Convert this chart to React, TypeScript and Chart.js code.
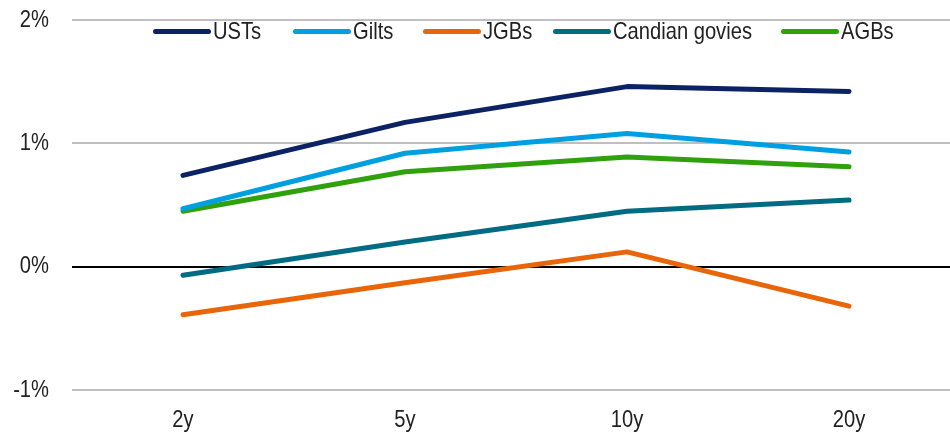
import React, { useEffect, useRef } from "react";
import { Chart, registerables } from "chart.js";

Chart.register(...registerables);

const categories = ["2y", "5y", "10y", "20y"];
const seriesNames = ["USTs", "Gilts", "JGBs", "Candian govies", "AGBs"];
const usts = [0.74, 1.17, 1.46, 1.42];
const gilts = [0.47, 0.92, 1.08, 0.93];
const jgbs = [-0.39, -0.13, 0.12, -0.32];
const canadian = [-0.07, 0.2, 0.45, 0.54];
const agbs = [0.45, 0.77, 0.89, 0.81];
const seriesValues = [usts, gilts, jgbs, canadian, agbs];
const seriesColors = ["#0B2265", "#00A0E0", "#E8650A", "#006B82", "#2EA10D"];
const yTicks = [-1, 0, 1, 2];

const FONT = "'Liberation Sans', Arial, sans-serif";
const TEXT = "#222222";
const SX = 0.84; // horizontal condensing of text
const legendX = [153, 293, 423, 553, 781];

const fmtPct = (v: number) => `${v}%`;

const condensedTicks = {
  id: "condensedTicks",
  afterDraw(chart: any) {
    const ctx = chart.ctx as CanvasRenderingContext2D;
    const xs = chart.scales.x;
    const ys = chart.scales.y;
    ctx.save();
    ctx.font = `24px ${FONT}`;
    ctx.fillStyle = TEXT;
    ctx.textBaseline = "middle";
    ctx.textAlign = "right";
    ys.ticks.forEach((t: any, i: number) => {
      const y = ys.getPixelForTick(i);
      ctx.save();
      ctx.translate(ys.right - 23, y);
      ctx.scale(SX, 1);
      ctx.fillText(fmtPct(t.value), 0, 0);
      ctx.restore();
    });
    ctx.textAlign = "center";
    xs.ticks.forEach((t: any, i: number) => {
      const x = xs.getPixelForTick(i);
      ctx.save();
      ctx.translate(x, xs.top + 30);
      ctx.scale(SX, 1);
      ctx.fillText(String(xs.getLabelForValue(t.value)), 0, 0);
      ctx.restore();
    });
    ctx.restore();
  },
};

export default function App() {
  const ref = useRef<HTMLCanvasElement | null>(null);

  useEffect(() => {
    if (!ref.current) return;
    const chart = new Chart(ref.current, {
      type: "line",
      data: {
        labels: categories,
        datasets: seriesNames.map((name, i) => ({
          label: name,
          data: seriesValues[i],
          borderColor: seriesColors[i],
          backgroundColor: seriesColors[i],
          borderWidth: 5,
          pointRadius: 0,
          pointHoverRadius: 0,
          tension: 0,
          borderCapStyle: "round" as const,
          borderJoinStyle: "round" as const,
          fill: false,
        })),
      },
      options: {
        responsive: false,
        animation: false,
        devicePixelRatio: 1,
        layout: { padding: { top: 20, right: 0, bottom: 0, left: 0 } },
        plugins: {
          legend: { display: false },
          tooltip: { enabled: false },
        },
        scales: {
          x: {
            type: "category",
            offset: true,
            grid: { display: false, drawTicks: false },
            border: { display: false },
            ticks: { display: false },
            afterFit: (scale: any) => {
              scale.height = 45;
            },
          },
          y: {
            min: -1,
            max: 2,
            afterBuildTicks: (scale: any) => {
              scale.ticks = yTicks.map((v) => ({ value: v }));
            },
            grid: {
              drawTicks: false,
              lineWidth: 2,
              color: (ctx: any) => (ctx.tick && ctx.tick.value === 0 ? "#000000" : "#BFBFBF"),
            },
            border: { display: false },
            ticks: { display: false, callback: (v: any) => fmtPct(v) },
            afterFit: (scale: any) => {
              scale.width = 72;
            },
          },
        },
      },
      plugins: [condensedTicks],
    });
    return () => chart.destroy();
  }, []);

  return (
    <div
      style={{
        position: "absolute",
        left: 0,
        top: 0,
        width: 950,
        height: 435,
        overflow: "hidden",
        background: "#fff",
      }}
    >
      <canvas ref={ref} width={960} height={435} style={{ display: "block" }} />
      {seriesNames.map((name, i) => (
        <div
          key={name}
          style={{
            position: "absolute",
            left: legendX[i],
            top: 19,
            height: 24,
            display: "flex",
            alignItems: "center",
            fontFamily: FONT,
            fontSize: 24,
            lineHeight: "24px",
            color: TEXT,
            whiteSpace: "nowrap",
          }}
        >
          <span
            style={{
              display: "inline-block",
              width: 58,
              height: 5,
              borderRadius: 3,
              background: seriesColors[i],
              marginRight: 2,
            }}
          />
          <span style={{ display: "inline-block", transform: `scaleX(${SX})`, transformOrigin: "left center" }}>
            {name}
          </span>
        </div>
      ))}
    </div>
  );
}
